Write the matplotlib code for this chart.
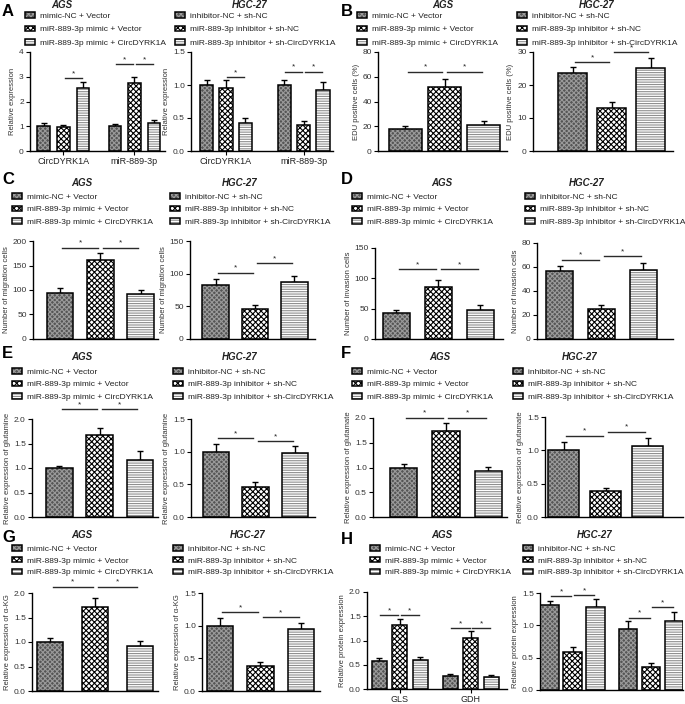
import numpy as np
import matplotlib
matplotlib.use('Agg')
import matplotlib.pyplot as plt
from matplotlib.legend_handler import HandlerTuple
from matplotlib.ticker import FormatStrFormatter

plt.rcParams['font.family'] = ['Liberation Sans', 'DejaVu Sans']
plt.rcParams['hatch.linewidth'] = 0.8

W, H = 685, 704

ags_labels = ['mimic-NC + Vector', 'miR-889-3p mimic + Vector', 'miR-889-3p mimic + CircDYRK1A']
hgc_labels = ['inhibitor-NC + sh-NC', 'miR-889-3p inhibitor + sh-NC', 'miR-889-3p inhibitor + sh-CircDYRK1A']

# A - relative expression
a_groups = ['CircDYRK1A', 'miR-889-3p']
a_ags_mean = [[1.00, 0.98, 2.55], [1.00, 2.75, 1.12]]
a_ags_err = [[0.13, 0.07, 0.25], [0.10, 0.25, 0.15]]
a_ags_sig = [(0, 1, 2, 2.93), (1, 0, 1, 3.5), (1, 1, 2, 3.5)]
a_hgc_mean = [[1.00, 0.96, 0.42], [1.00, 0.40, 0.93]]
a_hgc_err = [[0.07, 0.11, 0.08], [0.08, 0.06, 0.12]]
a_hgc_sig = [(0, 1, 2, 1.12), (1, 0, 1, 1.2), (1, 1, 2, 1.2)]

# B - EDU positive cells
b_ags_mean = [[18, 52, 21]]
b_ags_err = [[2, 6.5, 3]]
b_ags_sig = [(0, 0, 1, 64), (0, 1, 2, 64)]
b_hgc_mean = [[23.5, 13, 25.3]]
b_hgc_err = [[2, 2, 3]]
b_hgc_sig = [(0, 0, 1, 27), (0, 1, 2, 30)]

# C - migration
c_ags_mean = [[93, 161, 92]]
c_ags_err = [[12, 15, 8]]
c_ags_sig = [(0, 0, 1, 186), (0, 1, 2, 186)]
c_hgc_mean = [[82, 46, 87]]
c_hgc_err = [[10, 6, 10]]
c_hgc_sig = [(0, 0, 1, 101.5), (0, 1, 2, 116)]

# D - invasion
d_ags_mean = [[43, 86, 47]]
d_ags_err = [[5, 11, 9]]
d_ags_sig = [(0, 0, 1, 115), (0, 1, 2, 115)]
d_hgc_mean = [[56.5, 25, 57.5]]
d_hgc_err = [[4.5, 3.5, 5.5]]
d_hgc_sig = [(0, 0, 1, 66), (0, 1, 2, 69)]

# E - glutamine
e_ags_mean = [[1.00, 1.68, 1.16]]
e_ags_err = [[0.05, 0.13, 0.18]]
e_ags_sig = [(0, 0, 1, 2.2), (0, 1, 2, 2.2)]
e_hgc_mean = [[1.00, 0.46, 0.98]]
e_hgc_err = [[0.12, 0.07, 0.10]]
e_hgc_sig = [(0, 0, 1, 1.21), (0, 1, 2, 1.16)]

# F - glutamate
f_ags_mean = [[1.00, 1.73, 0.92]]
f_ags_err = [[0.08, 0.17, 0.10]]
f_ags_sig = [(0, 0, 1, 2.01), (0, 1, 2, 2.01)]
f_hgc_mean = [[1.00, 0.39, 1.06]]
f_hgc_err = [[0.13, 0.05, 0.12]]
f_hgc_sig = [(0, 0, 1, 1.22), (0, 1, 2, 1.28)]

# G - alpha-KG
g_ags_mean = [[1.00, 1.72, 0.92]]
g_ags_err = [[0.08, 0.17, 0.10]]
g_ags_sig = [(0, 0, 1, 2.13), (0, 1, 2, 2.13)]
g_hgc_mean = [[1.00, 0.39, 0.95]]
g_hgc_err = [[0.11, 0.05, 0.09]]
g_hgc_sig = [(0, 0, 1, 1.21), (0, 1, 2, 1.13)]

# H - protein expression
h_groups = ['GLS', 'GDH']
h_ags_mean = [[0.58, 1.32, 0.60], [0.27, 1.06, 0.25]]
h_ags_err = [[0.06, 0.13, 0.06], [0.03, 0.13, 0.04]]
h_ags_sig = [(0, 0, 1, 1.52), (0, 1, 2, 1.52), (1, 0, 1, 1.25), (1, 1, 2, 1.25)]
h_hgc_mean = [[1.32, 0.59, 1.29], [0.95, 0.35, 1.07]]
h_hgc_err = [[0.05, 0.07, 0.11], [0.11, 0.07, 0.13]]
h_hgc_sig = [(0, 0, 1, 1.45), (0, 1, 2, 1.47), (1, 0, 1, 1.12), (1, 1, 2, 1.28)]

styles = [dict(fc='#555555', hc='#9a9a9a', hatch='xxxxxxx'),
          dict(fc='white', hc='black', hatch='xxxxxx'),
          dict(fc='white', hc='#8f8f8f', hatch='-------')]

fig = plt.figure(figsize=(W / 100, H / 100), dpi=100)


def make_axes(x0, x1, ytop, ybot):
    return fig.add_axes([x0 / W, 1 - ybot / H, (x1 - x0) / W, (ybot - ytop) / H])


def draw(box, means, errs, sigs, labels, title, title_pos, leg_pos, ylabel,
         xlim, bw, d, ymax, ystep, yfmt, groups=None, pitch=0.6):
    ax = make_axes(*box)
    means = np.array(means, float)
    errs = np.array(errs, float)
    ng = means.shape[0]

    def xpos(g, k):
        return k if ng == 1 else g + (k - 1) * d

    handles = []
    for k in range(3):
        x = np.array([xpos(g, k) for g in range(ng)], float)
        h = means[:, k]
        st = styles[k]
        hb = ax.bar(x, h, bw, color=st['fc'], edgecolor=st['hc'], hatch=st['hatch'],
                    linewidth=0, zorder=2)
        eb = ax.bar(x, h, bw, fill=False, edgecolor='black', linewidth=1.1, zorder=3)
        ax.errorbar(x, h, yerr=[np.zeros(ng), errs[:, k]], fmt='none', ecolor='black',
                    elinewidth=1, capsize=2.5, capthick=1, zorder=1)
        handles.append((hb[0], eb[0]))

    for g, i, j, y in sigs:
        xa, xb = xpos(g, i), xpos(g, j)
        s = 0.06 * (xb - xa)
        ax.plot([xa + s, xb - s], [y, y], color='#2a2a2a', lw=1, clip_on=False)
        ax.text((xa + xb) / 2, y + ymax * 0.01, '*', ha='center', va='bottom',
                fontsize=6, color='#222222', clip_on=False)

    ax.set_xlim(*xlim)
    ax.set_ylim(0, ymax)
    ax.set_yticks(np.arange(0, ymax + ystep / 2, ystep))
    ax.yaxis.set_major_formatter(FormatStrFormatter(yfmt))
    ax.tick_params(axis='y', length=3, width=0.8, labelsize=6, pad=1.5, labelcolor='#333333')
    if groups is not None:
        ax.set_xticks(np.arange(ng))
        ax.set_xticklabels(groups)
        ax.tick_params(axis='x', length=3, width=0.8, labelsize=6.5, pad=1.5, labelcolor='#222222')
    else:
        ax.set_xticks([])
    for sp in ['top', 'right']:
        ax.spines[sp].set_visible(False)
    for sp in ['left', 'bottom']:
        ax.spines[sp].set_linewidth(1)
    ax.set_ylabel(ylabel, fontsize=5.5, labelpad=2, color='#333333')

    ax.legend(handles, labels, handler_map={tuple: HandlerTuple(ndivide=1, pad=0)},
              loc='upper left', bbox_to_anchor=(leg_pos[0] / W, 1 - (leg_pos[1] - 4) / H),
              bbox_transform=fig.transFigure, frameon=False, fontsize=6.0,
              handlelength=1.15, handleheight=0.65, handletextpad=0.7, labelspacing=pitch,
              borderpad=0, borderaxespad=0, labelcolor='#222222')
    fig.text(title_pos[0] / W, 1 - title_pos[1] / H, title, ha='center', va='center',
             fontsize=7, fontweight='bold', fontstyle='italic', color='#222222')
    return ax


# row 1
draw((30, 165, 52, 151), a_ags_mean, a_ags_err, a_ags_sig, ags_labels, 'AGS', (62, 5), (25, 16),
     'Relative expression', (-0.47, 1.43), 0.18, 0.275, 4, 1, '%d', a_groups, pitch=0.72)
draw((191, 333, 52, 151), a_hgc_mean, a_hgc_err, a_hgc_sig, hgc_labels, 'HGC-27', (250, 5), (175, 16),
     'Relative expression', (-0.45, 1.38), 0.17, 0.25, 1.5, 0.5, '%.1f', a_groups, pitch=0.72)
draw((378, 507, 52, 151), b_ags_mean, b_ags_err, b_ags_sig, ags_labels, 'AGS', (443, 5), (357, 16),
     'EDU positive cells (%)', (-0.70, 2.59), 0.84, 0, 80, 20, '%d', pitch=0.72)
draw((533, 673, 52, 151), b_hgc_mean, b_hgc_err, b_hgc_sig, hgc_labels, 'HGC-27', (597, 5), (517, 16),
     'EDU positive cells (%)', (-1.03, 2.58), 0.75, 0, 30, 10, '%d', pitch=0.72)

# row 2
draw((33, 158, 241, 339), c_ags_mean, c_ags_err, c_ags_sig, ags_labels, 'AGS', (82, 183), (12, 197),
     'Number of migration cells', (-0.67, 2.43), 0.66, 0, 200, 50, '%d')
draw((190, 315, 241, 339), c_hgc_mean, c_hgc_err, c_hgc_sig, hgc_labels, 'HGC-27', (240, 183), (170, 197),
     'Number of migration cells', (-0.65, 2.52), 0.68, 0, 150, 50, '%d')
draw((375, 503, 248, 339), d_ags_mean, d_ags_err, d_ags_sig, ags_labels, 'AGS', (442, 183), (352, 197),
     'Number of invasion cells', (-0.51, 2.54), 0.64, 0, 150, 50, '%d')
draw((537, 673, 243, 339), d_hgc_mean, d_hgc_err, d_hgc_sig, hgc_labels, 'HGC-27', (587, 183), (525, 197),
     'Number of invasion cells', (-0.55, 2.72), 0.65, 0, 80, 20, '%d')

# row 3
draw((32, 158, 419, 517), e_ags_mean, e_ags_err, e_ags_sig, ags_labels, 'AGS', (82, 357), (12, 372),
     'Relative expression of glutamine', (-0.68, 2.45), 0.66, 0, 2.0, 0.5, '%.1f')
draw((191, 315, 419, 517), e_hgc_mean, e_hgc_err, e_hgc_sig, hgc_labels, 'HGC-27', (240, 357), (173, 372),
     'Relative expression of glutamine', (-0.62, 2.5), 0.66, 0, 1.5, 0.5, '%.1f')
draw((373, 507, 418, 517), f_ags_mean, f_ags_err, f_ags_sig, ags_labels, 'AGS', (440, 357), (352, 372),
     'Relative expression of glutamate', (-0.72, 2.44), 0.65, 0, 2.0, 0.5, '%.1f')
draw((545, 683, 417, 517), f_hgc_mean, f_hgc_err, f_hgc_sig, hgc_labels, 'HGC-27', (580, 357), (513, 372),
     'Relative expression of glutamate', (-0.44, 2.84), 0.74, 0, 1.5, 0.5, '%.1f')

# row 4
draw((32, 158, 593, 691), g_ags_mean, g_ags_err, g_ags_sig, ags_labels, 'AGS', (82, 535), (12, 549),
     'Relative expression of α-KG', (-0.41, 2.40), 0.58, 0, 2.0, 0.5, '%.1f', pitch=0.5)
draw((202, 320, 593, 691), g_hgc_mean, g_hgc_err, g_hgc_sig, hgc_labels, 'HGC-27', (248, 535), (173, 549),
     'Relative expression of α-KG', (-0.44, 2.47), 0.65, 0, 1.5, 0.5, '%.1f', pitch=0.5)
draw((367, 507, 592, 689), h_ags_mean, h_ags_err, h_ags_sig, ags_labels, 'AGS', (442, 535), (370, 549),
     'Relative protein expression', (-0.46, 1.51), 0.21, 0.29, 2.0, 0.5, '%.1f', h_groups, pitch=0.5)
ax = draw((540, 683, 593, 690), h_hgc_mean, h_hgc_err, h_hgc_sig, hgc_labels, 'HGC-27', (595, 535), (523, 549),
          'Relative protein expression', (-0.42, 1.41), 0.24, 0.295, 1.5, 0.5, '%.1f', h_groups, pitch=0.5)
ax.set_xticks([])

for letter, x, y in [('A', 2, 12), ('B', 341, 12), ('C', 2, 179), ('D', 341, 179),
                     ('E', 2, 353), ('F', 341, 353), ('G', 2, 538), ('H', 341, 539)]:
    fig.text(x / W, 1 - y / H, letter, ha='left', va='center', fontsize=12, fontweight='bold')

fig.savefig('out.png', dpi=100)
